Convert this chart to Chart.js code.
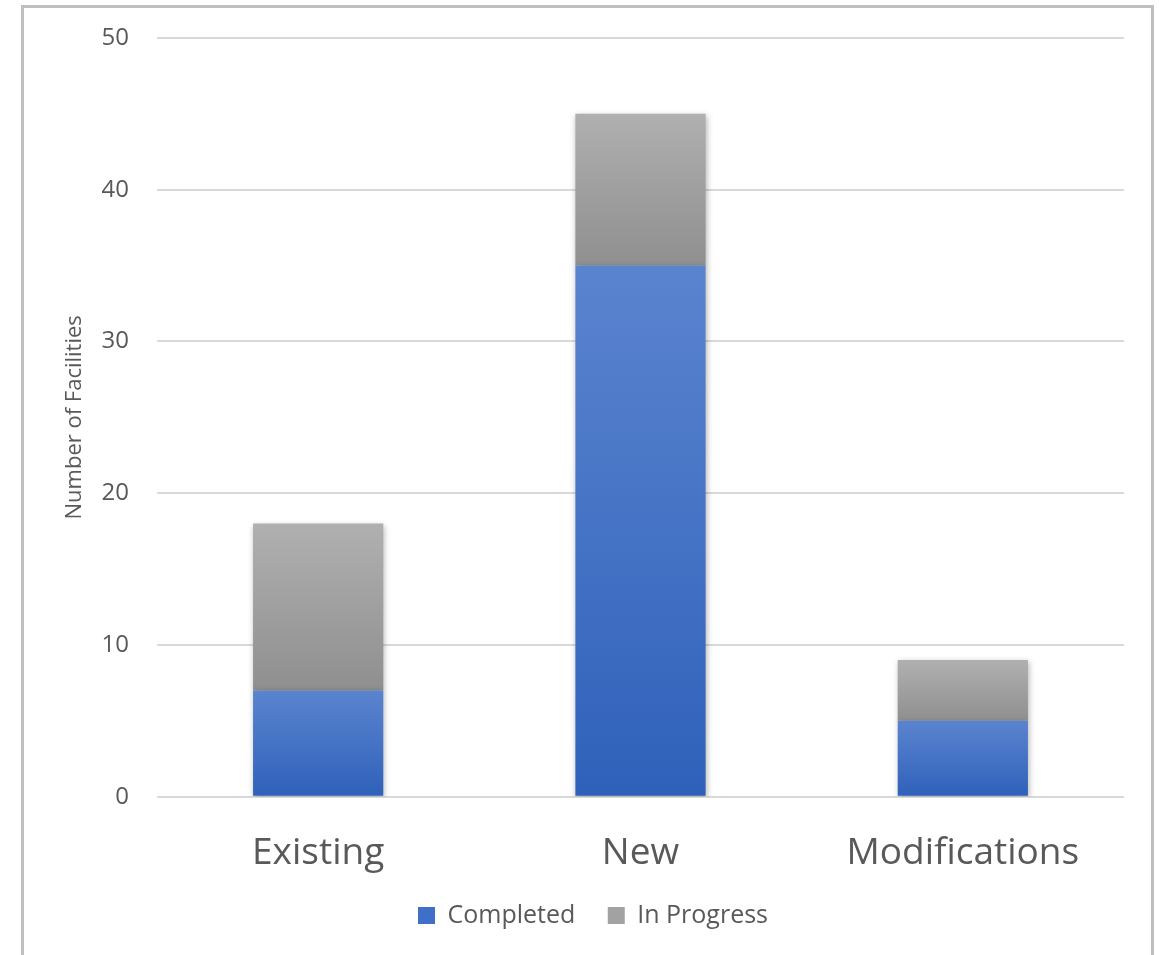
<!DOCTYPE html>
<html>
<head>
<meta charset="utf-8">
<script src="https://cdn.jsdelivr.net/npm/chart.js@4"></script>
<style>
  body { margin: 0; background: #fff; }
  #frame {
    position: absolute; left: 21px; top: 5px; width: 1127px; height: 960px;
    border: 3px solid #bfbfbf; border-bottom: none;
  }
  #wrap { position: absolute; left: 0; top: 0; width: 1159px; height: 955px; }
</style>
</head>
<body>
<div id="frame"></div>
<div id="wrap"><canvas id="myChart"></canvas></div>
<script>
    const categories = ['Existing', 'New', 'Modifications'];
    const completed = [7, 35, 5];
    const inProgress = [11, 10, 4];
    const yTicks = [0, 10, 20, 30, 40, 50];

    // vertical gradient per bar segment, lighter on top
    function segGradient(top, bottom, offset) {
        return function (context) {
            const chart = context.chart;
            const area = chart.chartArea;
            if (!area || context.type !== 'data') return bottom;
            const y = chart.scales.y;
            const i = context.dataIndex;
            const lo = offset ? offset[i] : 0;
            const hi = lo + context.dataset.data[i];
            const y0 = y.getPixelForValue(hi);
            const y1 = y.getPixelForValue(lo);
            const g = chart.ctx.createLinearGradient(0, y0, 0, y1);
            g.addColorStop(0, top);
            g.addColorStop(1, bottom);
            return g;
        };
    }

    const shadow = {
        id: 'shadow',
        beforeDatasetsDraw(chart) {
            const c = chart.ctx;
            c.save();
            c.shadowColor = 'rgba(0,0,0,0.3)';
            c.shadowBlur = 6;
            c.shadowOffsetX = 1;
            c.shadowOffsetY = 2;
        },
        afterDatasetsDraw(chart) {
            chart.ctx.restore();
        }
    };

    const data = {
        labels: categories,
        datasets: [
            {
                label: 'Completed',
                data: completed,
                backgroundColor: segGradient('#5b84cf', '#2f61ba', null),
                borderWidth: 0
            },
            {
                label: 'In Progress',
                data: inProgress,
                backgroundColor: segGradient('#b0b0b0', '#8f8f8f', completed),
                borderWidth: 0
            }
        ]
    };

    const legendColors = ['#3f6fc6', '#a2a2a2'];

    const config = {
        type: 'bar',
        data: data,
        plugins: [shadow],
        options: {
            responsive: false,
            animation: false,
            layout: { padding: { left: 62, right: 35, top: 38, bottom: 17 } },
            datasets: { bar: { barPercentage: 1, categoryPercentage: 0.404 } },
            plugins: {
                tooltip: { enabled: false },
                legend: {
                    position: 'bottom',
                    labels: {
                        color: '#595959',
                        font: { family: 'Open Sans', size: 25 },
                        boxWidth: 17,
                        boxHeight: 17,
                        padding: 0,
                        generateLabels(chart) {
                            return chart.data.datasets.map((ds, i) => ({
                                // first item keeps a gap before the next one
                                text: i === 0 ? ds.label + '     ' : ds.label,
                                fillStyle: legendColors[i],
                                strokeStyle: legendColors[i],
                                lineWidth: 0,
                                fontColor: '#595959',
                                datasetIndex: i
                            }));
                        }
                    }
                }
            },
            scales: {
                x: {
                    stacked: true,
                    grid: { display: false },
                    border: { display: false },
                    ticks: {
                        color: '#595959',
                        font: { family: 'Open Sans', size: 37, lineHeight: 1.36 },
                        padding: 24
                    }
                },
                y: {
                    stacked: true,
                    min: 0,
                    max: 50,
                    afterBuildTicks(scale) {
                        scale.ticks = yTicks.map(v => ({ value: v }));
                    },
                    afterFit(scale) {
                        scale.width = 95;
                        scale.paddingTop = 0;
                        scale.paddingBottom = 0;
                    },
                    grid: { color: '#d9d9d9', lineWidth: 2, drawTicks: false },
                    border: { display: false },
                    ticks: {
                        color: '#595959',
                        font: { family: 'Open Sans', size: 24 },
                        padding: 28
                    },
                    title: {
                        display: true,
                        text: 'Number of Facilities',
                        color: '#595959',
                        font: { family: 'Open Sans', size: 22 },
                        padding: 0
                    }
                }
            }
        }
    };

    const canvas = document.getElementById('myChart');
    canvas.width = 1159;
    canvas.height = 955;
    const myChart = new Chart(canvas, config);
</script>
</body>
</html>
